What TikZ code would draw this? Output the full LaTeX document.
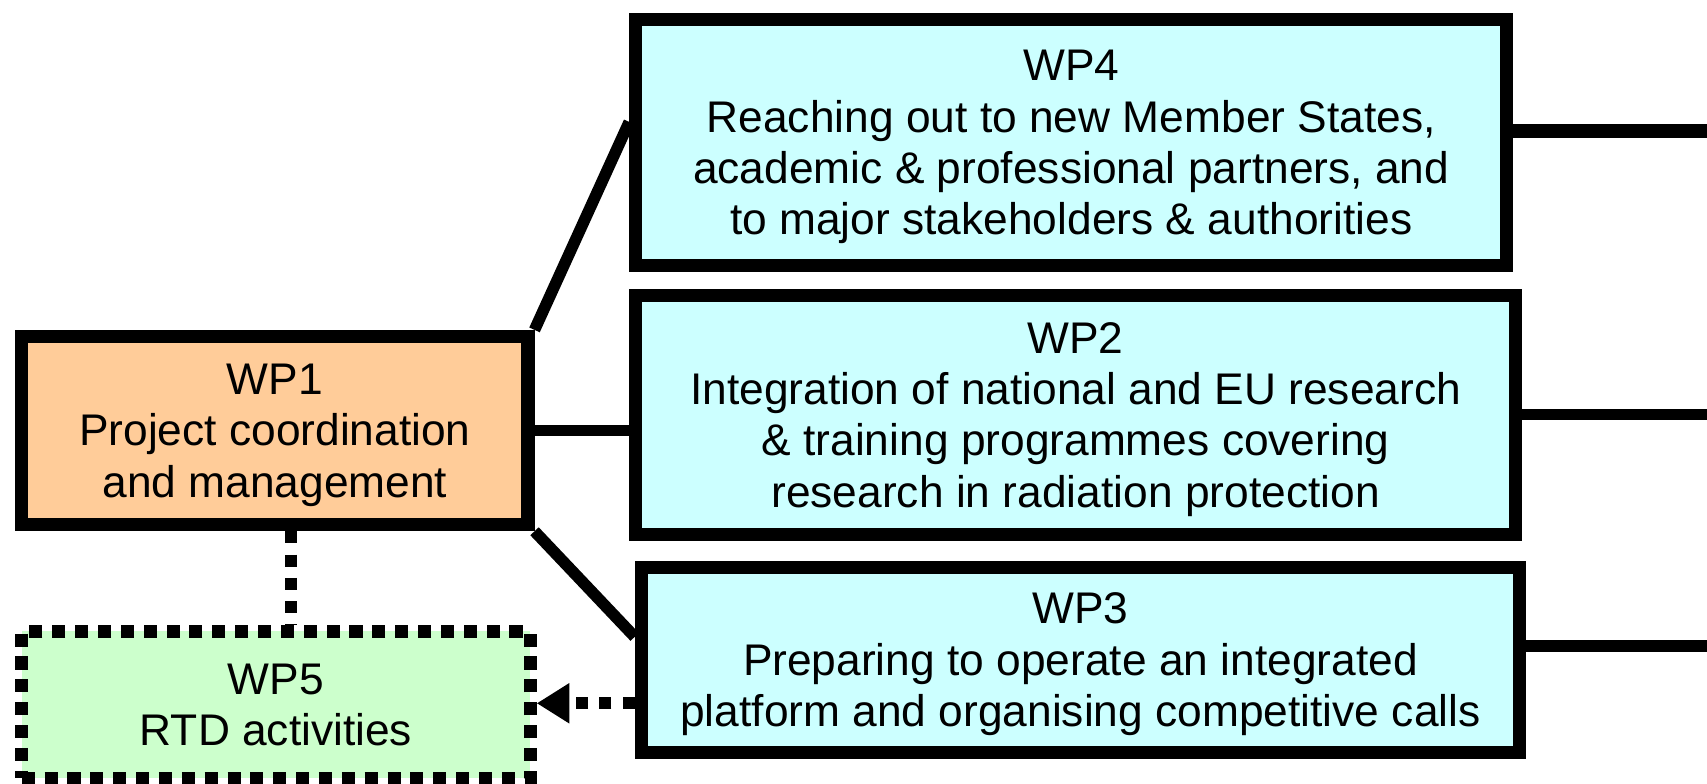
\documentclass[tikz,border=0pt]{standalone}
\usepackage{fontspec}
\setmainfont{Liberation Sans}
\usetikzlibrary{arrows.meta}
\definecolor{wpcyan}{HTML}{CCFFFF}
\definecolor{wporange}{HTML}{FFCC99}
\definecolor{wpgreen}{HTML}{CCFFCC}
\begin{document}
\begin{tikzpicture}[x=0.5pt,y=-0.5pt,
    wp/.style={draw,line width=6pt,align=center,inner sep=0pt,text depth=-3pt,
      font=\fontsize{20.35}{23.6}\selectfont},
    core/.style={wp,fill=wpcyan},
    lead/.style={wp,fill=wporange},
    rtd/.style={wp,fill=wpgreen,dash pattern=on 6pt off 4.5pt}]
  \useasboundingbox (0,0) rectangle (1568,720);
  \draw
    (252.5,395.5) node[lead,minimum width=232.5pt,minimum height=86.5pt] (1)
      {WP1\\Project coordination\\and management}
    (988.0,381.0) node[core,minimum width=404pt,minimum height=110pt] (2)
      {WP2\\Integration of national and EU research\\\& training programmes covering\\research in radiation protection}
    (992.5,606.0) node[core,minimum width=403.5pt,minimum height=85pt] (3)
      {WP3\\Preparing to operate an integrated\\platform and organising competitive calls}
    (984.0,131.0) node[core,minimum width=400pt,minimum height=113pt] (4)
      {WP4\\Reaching out to new Member States,\\academic \& professional partners, and\\to major stakeholders \& authorities}
    (253.5,647.5) node[rtd,minimum width=233.5pt,minimum height=67.5pt] (5)
      {WP5\\RTD activities};
  % free ends at the right edge
  \coordinate (r4) at (1568,120);
  \coordinate (r2) at (1568,381);
  \coordinate (r3) at (1568,593);
  \begin{scope}[line width=5.3pt]
    \draw (1.north east) to ([yshift=9.5pt]4.west);
    \draw (1.east) to (1.east -| 2.west);
    \draw (1.south east) to ([yshift=10.5pt]3.west);
    \draw[line width=6.5pt] ([yshift=5.5pt]4.east) to (r4);
    \draw[line width=5pt] (2.east) to (r2);
    \draw[line width=5.5pt] ([yshift=6.5pt]3.east) to (r3);
  \end{scope}
  \begin{scope}[line width=5.5pt,dash pattern=on 5.5pt off 5.2pt]
    \draw ([xshift=7.25pt]1.south) to ([xshift=7.25pt]1.south |- 5.north);
    \draw[-{Triangle[length=15pt,width=17.5pt]}]
      ([yshift=-20pt]3.west) to ([yshift=-20pt]3.west -| 5.east);
  \end{scope}
\end{tikzpicture}
\end{document}
